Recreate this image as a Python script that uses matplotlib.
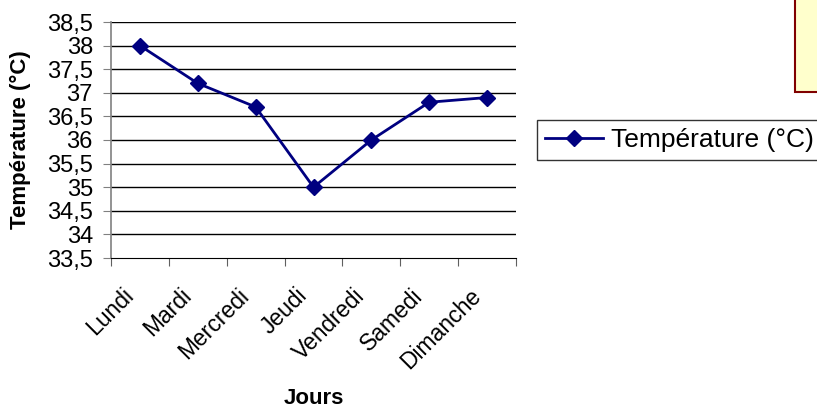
import matplotlib
matplotlib.use("Agg")
import matplotlib.pyplot as plt
from matplotlib.patches import Rectangle
from matplotlib.transforms import ScaledTranslation

days = ["Lundi", "Mardi", "Mercredi", "Jeudi", "Vendredi", "Samedi", "Dimanche"]
temps = [38.0, 37.2, 36.7, 35.0, 36.0, 36.8, 36.9]
yticks = [33.5, 34, 34.5, 35, 35.5, 36, 36.5, 37, 37.5, 38, 38.5]
ytick_labels = ["33,5", "34", "34,5", "35", "35,5", "36", "36,5", "37", "37,5", "38", "38,5"]

plt.rcParams['font.family'] = ['Liberation Sans', 'DejaVu Sans']

fig = plt.figure(figsize=(8.17, 4.07), dpi=100)
ax = fig.add_axes([111/817, 1-258/407, 405/817, 236/407])

navy = "#000080"
xs = [i + 0.5 for i in range(len(days))]
ax.plot(xs, temps, color=navy, lw=2, marker='D', ms=8.5, mfc=navy, mec=navy,
        label="Température (°C)", clip_on=False, zorder=3)

ax.set_xlim(0, len(days))
ax.set_ylim(33.5, 38.5)
ax.set_yticks(yticks)
ax.set_yticklabels(ytick_labels, fontsize=17)
for y in yticks[1:]:
    ax.axhline(y, color='black', lw=1.0, zorder=0)

ax.set_xticks(range(len(days) + 1))
ax.set_xticklabels([])
off = ScaledTranslation(-18/100, -26/100, fig.dpi_scale_trans)
for x, d in zip(xs, days):
    ax.text(x, 0, d, transform=ax.get_xaxis_transform() + off, rotation=45,
            ha='right', va='top', rotation_mode='anchor', fontsize=16.5)
ax.tick_params(axis='x', which='major', length=6, direction='out', color='#606060')
ax.tick_params(axis='y', length=6, direction='out', color='#808080', pad=7)

for s in ['top', 'right']:
    ax.spines[s].set_visible(False)
ax.spines['left'].set_color('#808080')
ax.spines['left'].set_linewidth(1.2)
ax.spines['bottom'].set_color('black')

fig.text(20/817, 1-140/407, "Température (°C)", rotation=90, ha='center', va='center',
         fontsize=16, fontweight='bold')
fig.text(314/817, 1-398/407, "Jours", ha='center', va='center',
         fontsize=16, fontweight='bold')

leg = ax.legend(loc='upper left', bbox_to_anchor=(537/817, 1-120/407),
                bbox_transform=fig.transFigure, fontsize=19, frameon=True,
                fancybox=False, borderpad=0.3, handlelength=2.2, handletextpad=0.3,
                borderaxespad=0)
leg.get_frame().set_edgecolor('black')
leg.get_frame().set_linewidth(1.0)

fig.patches.append(Rectangle((795/817, 1-92/407), 0.05, 0.3, transform=fig.transFigure,
                             facecolor='#FFFFCC', edgecolor='#800000', lw=1.5))

fig.savefig("out.png", dpi=100)
